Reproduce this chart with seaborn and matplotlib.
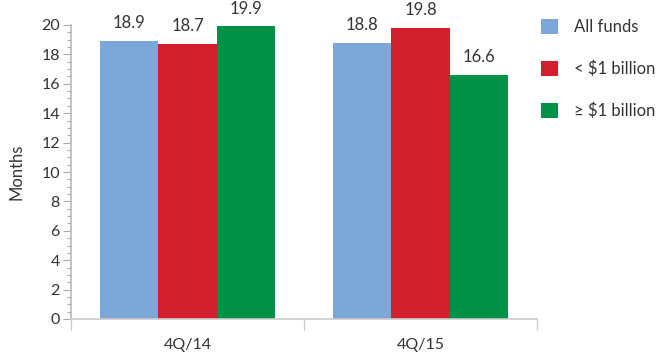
import matplotlib
matplotlib.use("Agg")
import matplotlib.pyplot as plt
import seaborn as sns
import pandas as pd
from matplotlib.ticker import MultipleLocator, FixedLocator

categories = ["4Q/14", "4Q/15"]
series = ["All funds", "< $1 billion", "≥ $1 billion"]
values = {
    "All funds": [18.9, 18.8],
    "< $1 billion": [18.7, 19.8],
    "≥ $1 billion": [19.9, 16.6],
}
colors = ["#7BA7D9", "#D0202E", "#009149"]

rows = []
for s in series:
    for c, v in zip(categories, values[s]):
        rows.append({"Quarter": c, "Series": s, "Months": v})
df = pd.DataFrame(rows)

sns.set_theme(style="white")
plt.rcParams["font.family"] = ["Lato", "DejaVu Sans"]
text_color = "#333333"
fs = 11.5

fig = plt.figure(figsize=(6.58, 3.52), dpi=100)
ax = fig.add_axes([71/658, 33/352, (537-71)/658, (319-25)/352])

sns.barplot(data=df, x="Quarter", y="Months", hue="Series", hue_order=series,
            order=categories, palette=colors, width=0.755, saturation=1,
            ax=ax, legend=True, linewidth=0, edgecolor="none")

for cont in ax.containers:
    ax.bar_label(cont, fmt="%.1f", padding=7, fontsize=12, color=text_color)

ax.set_xlim(-0.5, 1.5)
ax.set_ylim(0, 20)
ax.yaxis.set_major_locator(MultipleLocator(2))
ax.yaxis.set_minor_locator(MultipleLocator(0.5))
ax.xaxis.set_minor_locator(FixedLocator([-0.5, 0.5, 1.5]))

ax.tick_params(axis="y", which="major", left=True, length=6, width=0.8,
               color="#AAAAAA", labelsize=fs, labelcolor=text_color, pad=2)
ax.tick_params(axis="y", which="minor", left=True, length=3, width=0.8, color="#AAAAAA")
ax.tick_params(axis="x", which="major", bottom=False, labelsize=fs, labelcolor=text_color, pad=8)
ax.tick_params(axis="x", which="minor", bottom=True, length=8, width=1, color="#CCCCCC")

for side in ["top", "right"]:
    ax.spines[side].set_visible(False)
ax.spines["left"].set_color("#BBBBBB")
ax.spines["bottom"].set_color("#CCCCCC")
ax.spines["bottom"].set_linewidth(1.2)

ax.set_xlabel("")
ax.set_ylabel("Months", fontsize=12, color=text_color, labelpad=12)

handles, labels = ax.get_legend_handles_labels()
lg_fs = 12
ax.legend(handles, labels, loc="upper left", bbox_to_anchor=((541-71)/466, 1.02),
          frameon=False, fontsize=lg_fs, labelcolor=text_color,
          handlelength=1.02, handleheight=1.02, handletextpad=0.96,
          labelspacing=1.53, borderaxespad=0, borderpad=0)

fig.savefig("out.png", dpi=100)
